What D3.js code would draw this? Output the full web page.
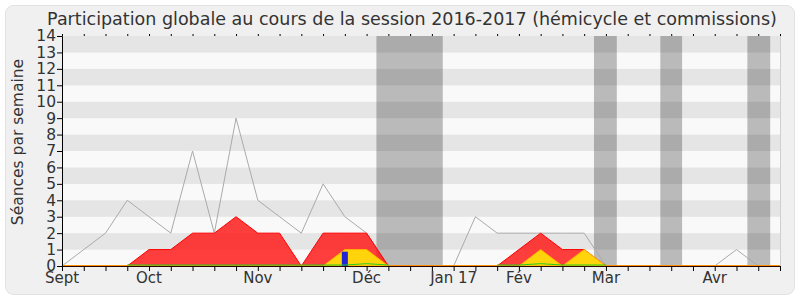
<!DOCTYPE html>
<html>
<head>
<meta charset="utf-8">
<script src="https://cdn.jsdelivr.net/npm/d3@7"></script>
<style>
  body { margin: 0; background: #fff; }
  text { font-family: "DejaVu Sans", sans-serif; fill: #333; }
</style>
</head>
<body>
<svg id="chart" width="800" height="300"></svg>
<script>
// semaines 0..33 (sept 2016 -> avr 2017)
var weeks = d3.range(0, 34)
// nombre total de séances (ligne grise)
var seances = [0,1,2,4,3,2,7,2,9,4,3,2,5,3,2,0,0,0,0,3,2,2,2,2,2,0,0,0,0,0,0,1,0,0]
// présences (rouge)
var presences = [0,0,0,0,1,1,2,2,3,2,2,0,2,2,2,0,0,0,0,0,0,1,2,1,1,0,0,0,0,0,0,0,0,0]
// participations (jaune)
var participations = [0,0,0,0,0,0,0,0,0,0,0,0,0,1,1,0,0,0,0,0,0,0,1,0,1,0,0,0,0,0,0,0,0,0]
// interventions (vert), null = pas de valeur
var interventions = [null,null,null,0,0,0,0,0,0,0,0,0,0,0,0.08,0,null,null,null,null,0,0,0.08,0,0,0,null,null,null,null,null,null,null,null]
// questions (barres bleues)
var questions = [{week: 13, value: 0.87}]
// vacances parlementaires (en semaines)
var vacStart = [14.45, 24.45, 27.5, 31.5]
var vacEnd = [17.5, 25.5, 28.5, 32.55]
// libellés des mois
var monthWeeks = [0, 4, 9, 14, 18, 21, 25, 30]
var monthLabels = ["Sept", "Oct", "Nov", "Déc", "Jan 17", "Fév", "Mar", "Avr"]

var width = 800, height = 300
var margin = {top: 36, right: 20, bottom: 34, left: 62}

var svg = d3.select("#chart")

svg.append("rect")
  .attr("x", 5.5).attr("y", 5.5).attr("width", 789).attr("height", 289)
  .attr("rx", 8).attr("fill", "#f0f0f0").attr("stroke", "#e2e2e2")

svg.append("text")
  .attr("x", 412).attr("y", 25)
  .attr("text-anchor", "middle")
  .style("font-size", "17.5px")
  .text("Participation globale au cours de la session 2016-2017 (hémicycle et commissions)")

var x = d3.scaleLinear().domain([0, 33]).range([margin.left, width - margin.right])
var y = d3.scaleLinear().domain([0, 14]).range([height - margin.bottom, margin.top])

// bandes horizontales
svg.append("g")
  .selectAll("rect")
  .data(d3.range(0, 14))
  .join("rect")
    .attr("x", x(0))
    .attr("width", x(33) - x(0))
    .attr("y", d => y(d + 1))
    .attr("height", d => y(d) - y(d + 1))
    .attr("fill", d => d % 2 == 1 ? "#e5e5e5" : "#f9f9f9")

// vacances
svg.append("g")
  .selectAll("rect")
  .data(vacStart)
  .join("rect")
    .attr("x", (d) => x(d))
    .attr("width", (d, i) => x(vacEnd[i]) - x(d))
    .attr("y", y(14))
    .attr("height", y(0) - y(14))
    .attr("fill", "rgba(0,0,0,0.25)")

svg.append("line")
  .attr("x1", x(33) + 0.5).attr("x2", x(33) + 0.5)
  .attr("y1", y(14)).attr("y2", y(0))
  .attr("stroke", "#cfcfcf")

// ligne grise des séances
svg.append("path")
  .datum(weeks)
  .attr("fill", "none")
  .attr("stroke", "#aaa")
  .attr("stroke-width", 1)
  .attr("d", d3.line().x(d => x(d)).y(d => y(seances[d])))

// aire rouge
svg.append("path")
  .datum(weeks)
  .attr("fill", "rgba(255,20,20,0.82)")
  .attr("stroke", "#f00")
  .attr("stroke-width", 1)
  .attr("d", d3.area().x(d => x(d)).y0(y(0)).y1(d => y(presences[d])))

// aire jaune
svg.append("path")
  .datum(weeks)
  .attr("fill", "#ffd40a")
  .attr("stroke", "#ffb300")
  .attr("stroke-width", 1)
  .attr("d", d3.area().x(d => x(d)).y0(y(0)).y1(d => y(participations[d])))

// barres bleues
svg.append("g")
  .selectAll("rect")
  .data(questions)
  .join("rect")
    .attr("x", d => x(d.week) - 3)
    .attr("width", 6)
    .attr("y", d => y(d.value))
    .attr("height", d => y(0) - y(d.value))
    .attr("fill", "#2323d8")

// axes
var yAxis = svg.append("g")
  .attr("transform", `translate(${margin.left},0)`)
  .call(d3.axisLeft(y).tickValues(d3.range(0, 15)).tickSize(5).tickFormat(d3.format("d")))
yAxis.selectAll("text").style("font-size", "15.5px").attr("dx", "2")
yAxis.select(".domain").attr("stroke", "#000")

var xAxis = svg.append("g")
  .attr("transform", `translate(0,${y(0)})`)
  .call(d3.axisBottom(x).tickValues(weeks).tickSize(5).tickFormat(""))
xAxis.select(".domain").attr("stroke", "#2a0500")

svg.append("g")
  .attr("transform", `translate(0,${y(0)})`)
  .selectAll("text")
  .data(monthWeeks)
  .join("text")
    .attr("x", d => x(d))
    .attr("y", 17)
    .attr("text-anchor", "middle")
    .style("font-size", "15px")
    .text((d, i) => monthLabels[i])

var topAxis = svg.append("g")
  .attr("transform", `translate(0,${y(14)})`)
  .call(d3.axisTop(x).tickValues(weeks).tickSize(2).tickFormat(""))
topAxis.select(".domain").remove()

// ligne verte
svg.append("path")
  .datum(weeks)
  .attr("fill", "none")
  .attr("stroke", "#22cc22")
  .attr("stroke-width", 1)
  .attr("d", d3.line().defined(d => interventions[d] != null).x(d => x(d)).y(d => y(interventions[d]) - 1))

// titre de l'axe y
svg.append("text")
  .attr("transform", "translate(23,142) rotate(-90)")
  .attr("text-anchor", "middle")
  .style("font-size", "15.5px")
  .text("Séances par semaine")
</script>
</body>
</html>
